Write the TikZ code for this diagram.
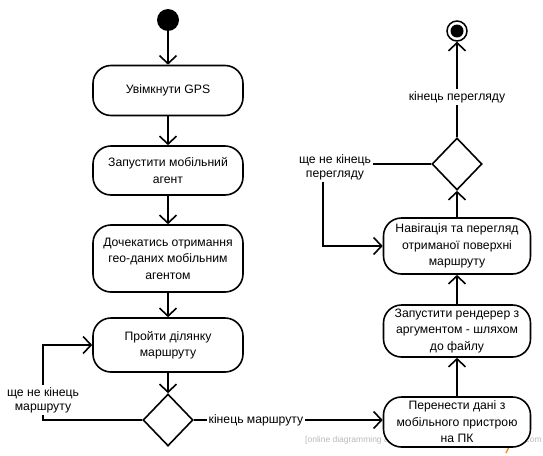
\documentclass[tikz,border=0pt]{standalone}
\usepackage{fontspec}
\setmainfont{Liberation Sans}
\usetikzlibrary{arrows.meta,shapes.geometric}
\begin{document}
\begin{tikzpicture}[x=1pt,y=-1pt,
  act/.style={draw, line width=1.6pt, rounded corners=18pt, fill=white, align=center, inner sep=0pt,
    font=\fontsize{12.2}{16.5}\selectfont},
  dec/.style={draw, line width=1.6pt, diamond, minimum width=50pt, minimum height=52pt, inner sep=0pt, fill=white},
  lbl/.style={fill=white, align=center, inner sep=2pt, font=\fontsize{12.2}{14}\selectfont},
  flow/.style={line width=1.6pt, -{Straight Barb[length=8pt,width=17pt,line width=1.6pt]}},
  wm/.style={text=gray!55, inner sep=0pt, font=\fontsize{8.5}{10}\selectfont}]
\useasboundingbox (0,0) rectangle (543,455);
% watermark (behind)
\node[wm, anchor=base west] (wm1) at (305,442) {[online diagramming \& design]};
\node[wm, anchor=base east] (wm2) at (542,442) {creately.com};
\draw[orange, line width=1.3pt] (509,447) -- (506,453);
% start / end
\node[circle, fill, minimum size=22pt, inner sep=0pt] (start) at (168,20) {};
\node[circle, draw, line width=1.5pt, minimum size=20pt, inner sep=0pt] (end) at (457,31) {};
\fill (end.center) circle (6.5pt);
% left column
\node[act, minimum width=150pt, minimum height=50pt] (b1) at (168,90.5) {Увімкнути GPS};
\node[act, minimum width=150pt, minimum height=49pt] (b2) at (168,170.5) {Запустити мобільний\\агент};
\node[act, minimum width=150pt, minimum height=67pt] (b3) at (168,258.5) {Дочекатись отримання\\гео-даних мобільним\\агентом};
\node[act, minimum width=150pt, minimum height=54pt] (b4) at (168,345) {Пройти ділянку\\маршруту};
\node[dec] (d1) at (168,420) {};
% right column
\node[act, minimum width=147pt, minimum height=50pt] (b5) at (457,422) {Перенести дані з\\мобільного пристрою\\на ПК};
\node[act, minimum width=147pt, minimum height=52pt] (b6) at (457,331) {Запустити рендерер з\\аргументом - шляхом\\до файлу};
\node[act, minimum width=147pt, minimum height=56pt] (b7) at (457,246) {Навігація та перегляд\\отриманої поверхні\\маршруту};
\node[dec] (d2) at (457,164) {};
% helper coordinates
\coordinate (l1) at (43,420);
\coordinate (l2) at (43,345);
\coordinate (r1) at (323,164);
\coordinate (r2) at (323,246);
% connectors
\draw[flow] (start) -- (b1);
\draw[flow] (b1) -- (b2);
\draw[flow] (b2) -- (b3);
\draw[flow] (b3) -- (b4);
\draw[flow] (b4) -- (d1);
\draw[flow] (d1.west) -- (l1) -- (l2) -- (b4.west);
\draw[flow] (d1.east) -- (b5.west |- d1.east);
\draw[flow] (b5) -- (b6);
\draw[flow] (b6) -- (b7);
\draw[flow] (b7) -- (d2);
\draw[flow] (d2.north) -- (end);
\draw[flow] (d2.west) -- (r1) -- (r2) -- (b7.west);
% labels
\node[lbl] (t1) at (43,400) {ще не кінець\\маршруту};
\node[lbl] (t2) at (256,420) {кінець маршруту};
\node[lbl] (t3) at (457,97) {кінець перегляду};
\node[lbl] (t4) at (335,167) {ще не кінець\\перегляду};
\end{tikzpicture}
\end{document}
